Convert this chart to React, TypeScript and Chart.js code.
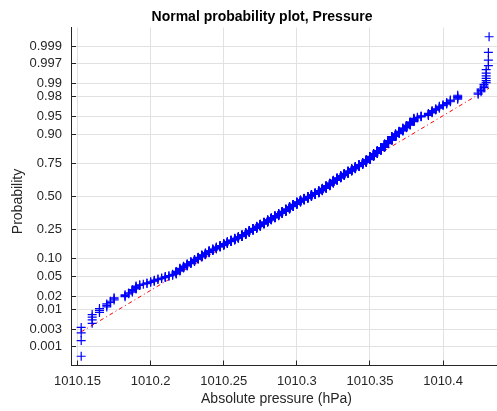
import React, { useEffect, useRef } from "react";
import { Chart, registerables } from "chart.js";

Chart.register(...registerables);

// ---- Data: distinct pressure readings (hPa) and how many samples share each ----
const pressureLevels = [
  1010.1525, 1010.16, 1010.165, 1010.17, 1010.1725, 1010.175, 1010.1825, 1010.185, 1010.1875, 1010.19,
  1010.1925, 1010.195, 1010.1975, 1010.2, 1010.2025, 1010.205, 1010.2075, 1010.21, 1010.2125, 1010.215,
  1010.2175, 1010.22, 1010.2225, 1010.225, 1010.2275, 1010.23, 1010.2325, 1010.235, 1010.2375, 1010.24,
  1010.2425, 1010.245, 1010.2475, 1010.25, 1010.2525, 1010.255, 1010.2575, 1010.26, 1010.2625, 1010.265,
  1010.2675, 1010.27, 1010.2725, 1010.275, 1010.2775, 1010.28, 1010.2825, 1010.285, 1010.2875, 1010.29,
  1010.2925, 1010.295, 1010.2975, 1010.3, 1010.3025, 1010.305, 1010.3075, 1010.31, 1010.3125, 1010.315,
  1010.3175, 1010.32, 1010.3225, 1010.325, 1010.3275, 1010.33, 1010.3325, 1010.335, 1010.3375, 1010.34,
  1010.3425, 1010.345, 1010.3475, 1010.35, 1010.3525, 1010.355, 1010.3575, 1010.36, 1010.3625, 1010.365,
  1010.3675, 1010.37, 1010.3725, 1010.375, 1010.3775, 1010.38, 1010.3825, 1010.385, 1010.39, 1010.3925,
  1010.395, 1010.3975, 1010.4, 1010.4025, 1010.405, 1010.41, 1010.424, 1010.426, 1010.428, 1010.4295,
  1010.431, 1010.4315,
];
const levelCounts = [
  4, 4, 3, 3, 2, 3, 3, 2, 4, 5,
  2, 1, 2, 2, 3, 2, 2, 3, 2, 3,
  7, 8, 6, 7, 7, 8, 8, 9, 8, 9,
  8, 9, 8, 9, 10, 9, 10, 9, 12, 13,
  14, 13, 14, 15, 14, 16, 15, 16, 17, 17,
  18, 19, 19, 19, 16, 15, 15, 15, 14, 17,
  20, 21, 21, 22, 18, 17, 17, 17, 16, 15,
  14, 13, 18, 20, 16, 16, 16, 17, 15, 16,
  10, 9, 10, 8, 9, 9, 2, 3, 5, 5,
  3, 4, 2, 3, 3, 5, 2, 3, 3, 6,
  3, 1,
];

// ---- Axis ticks and texts ----
const probTickLabels = ["0.001", "0.003", "0.01", "0.02", "0.05", "0.10", "0.25", "0.50", "0.75", "0.90", "0.95", "0.98", "0.99", "0.997", "0.999"];
const xTickValues = [1010.15, 1010.2, 1010.25, 1010.3, 1010.35, 1010.4];
const xTickLabels = ["1010.15", "1010.2", "1010.25", "1010.3", "1010.35", "1010.4"];
const titleText = "Normal probability plot, Pressure";
const xLabelText = "Absolute pressure (hPa)";
const yLabelText = "Probability";

// inverse standard normal CDF (Acklam)
function norminv(p: number): number {
  const a = [-3.969683028665376e1, 2.209460984245205e2, -2.759285104469687e2, 1.38357751867269e2, -3.066479806614716e1, 2.506628277459239];
  const b = [-5.447609879822406e1, 1.615858368580409e2, -1.556989798598866e2, 6.680131188771972e1, -1.328068155288572e1];
  const c = [-7.784894002430293e-3, -3.223964580411365e-1, -2.400758277161838, -2.549732539343734, 4.374664141464968, 2.938163982698783];
  const d = [7.784695709041462e-3, 3.224671290700398e-1, 2.445134137142996, 3.754408661907416];
  const plow = 0.02425;
  if (p < plow) {
    const q = Math.sqrt(-2 * Math.log(p));
    return (((((c[0] * q + c[1]) * q + c[2]) * q + c[3]) * q + c[4]) * q + c[5]) / ((((d[0] * q + d[1]) * q + d[2]) * q + d[3]) * q + 1);
  }
  if (p <= 1 - plow) {
    const q = p - 0.5;
    const r = q * q;
    return ((((((a[0] * r + a[1]) * r + a[2]) * r + a[3]) * r + a[4]) * r + a[5]) * q) / (((((b[0] * r + b[1]) * r + b[2]) * r + b[3]) * r + b[4]) * r + 1);
  }
  const q = Math.sqrt(-2 * Math.log(1 - p));
  return -(((((c[0] * q + c[1]) * q + c[2]) * q + c[3]) * q + c[4]) * q + c[5]) / ((((d[0] * q + d[1]) * q + d[2]) * q + d[3]) * q + 1);
}

const FONT = '"Liberation Sans", Arial, Helvetica, sans-serif';
const TEXT_COLOR = "#262626";
const GRID_COLOR = "#e1e1e1";

export default function App() {
  const ref = useRef<HTMLCanvasElement>(null);

  useEffect(() => {
    if (!ref.current) return;
    // expand sorted sample
    const sample: number[] = [];
    pressureLevels.forEach((v, i) => {
      for (let k = 0; k < levelCounts[i]; k++) sample.push(v);
    });
    const n = sample.length;
    const points = sample.map((v, i) => ({ x: v, y: norminv((i + 0.5) / n) }));

    const prctile = (pct: number) => {
      const pos = (pct / 100) * n + 0.5; // 1-based
      const lo = Math.floor(pos);
      const f = pos - lo;
      return sample[lo - 1] + f * (sample[lo] - sample[lo - 1]);
    };
    const q1x = prctile(25);
    const q3x = prctile(75);
    const q1y = norminv(0.25);
    const q3y = norminv(0.75);
    const slope = (q3y - q1y) / (q3x - q1x);
    const cx = (q1x + q3x) / 2;
    const minx = sample[0];
    const maxx = sample[n - 1];
    const range = maxx - minx;
    const yLim = norminv(0.25 / n);

    const decor = {
      id: "decor",
      afterDraw(chart: any) {
        const { ctx, chartArea, scales } = chart;
        const align = (px: number) => Math.round(px - 0.5) + 0.5;
        ctx.save();
        ctx.strokeStyle = TEXT_COLOR;
        ctx.lineWidth = 1;
        scales.y.ticks.forEach((t: any) => {
          const py = align(scales.y.getPixelForValue(t.value));
          ctx.beginPath();
          ctx.moveTo(chartArea.left, py);
          ctx.lineTo(chartArea.left + 5, py);
          ctx.stroke();
        });
        scales.x.ticks.forEach((t: any) => {
          const px = align(scales.x.getPixelForValue(t.value));
          ctx.beginPath();
          ctx.moveTo(px, chartArea.bottom);
          ctx.lineTo(px, chartArea.bottom - 5);
          ctx.stroke();
        });
        ctx.fillStyle = "#000000";
        ctx.font = `bold 14px ${FONT}`;
        ctx.textAlign = "center";
        ctx.textBaseline = "alphabetic";
        ctx.fillText(titleText, 262, 21);
        ctx.fillStyle = TEXT_COLOR;
        ctx.font = `14px ${FONT}`;
        ctx.fillText(xLabelText, 276.5, 402.5);
        ctx.translate(22, 201.5);
        ctx.rotate(-Math.PI / 2);
        ctx.fillText(yLabelText, 0, 0);
        ctx.restore();
      },
    };

    const chart = new Chart(ref.current, {
      type: "scatter",
      data: {
        datasets: [
          {
            type: "scatter",
            data: points,
            pointStyle: "cross",
            pointRadius: 4.5,
            pointBorderWidth: 1.2,
            borderColor: "#0000ff",
            backgroundColor: "#0000ff",
            order: 0,
          } as any,
          {
            type: "line",
            data: [
              { x: q1x, y: q1y },
              { x: q3x, y: q3y },
            ],
            borderColor: "#ff0000",
            borderWidth: 1,
            pointRadius: 0,
            fill: false,
            order: 1,
          } as any,
          {
            type: "line",
            data: [
              { x: minx, y: slope * (minx - cx) },
              { x: maxx, y: slope * (maxx - cx) },
            ],
            borderColor: "#ff0000",
            borderWidth: 1,
            borderDash: [4, 3, 1, 3],
            pointRadius: 0,
            fill: false,
            order: 2,
          } as any,
        ],
      },
      options: {
        animation: false,
        responsive: false,
        devicePixelRatio: 1,
        events: [],
        layout: { padding: { left: 0, top: 27.5, right: 5.5, bottom: 0 } },
        plugins: { legend: { display: false }, tooltip: { enabled: false }, title: { display: false } },
        scales: {
          x: {
            type: "linear",
            bounds: "data",
            min: minx - 0.025 * range,
            max: maxx + 0.025 * range,
            afterBuildTicks: (s: any) => {
              s.ticks = xTickValues.map((v) => ({ value: v }));
            },
            afterFit: (s: any) => {
              s.height = 45.5;
            },
            grid: { color: GRID_COLOR, lineWidth: 1, drawTicks: false },
            border: { display: true, color: TEXT_COLOR, width: 1 },
            ticks: {
              autoSkip: false,
              maxRotation: 0,
              padding: 8,
              color: TEXT_COLOR,
              font: { family: FONT, size: 13 },
              callback: (_v: any, i: number) => xTickLabels[i],
            },
          },
          y: {
            type: "linear",
            bounds: "data",
            min: yLim,
            max: -yLim,
            afterBuildTicks: (s: any) => {
              s.ticks = probTickLabels.map((l) => ({ value: norminv(parseFloat(l)) }));
            },
            afterFit: (s: any) => {
              s.width = 71;
            },
            grid: { color: GRID_COLOR, lineWidth: 1, drawTicks: false },
            border: { display: true, color: TEXT_COLOR, width: 1 },
            ticks: {
              autoSkip: false,
              padding: 9,
              color: TEXT_COLOR,
              font: { family: FONT, size: 13 },
              callback: (_v: any, i: number) => probTickLabels[i],
            },
          },
        },
      } as any,
      plugins: [decor],
    });
    return () => chart.destroy();
  }, []);

  return (
    <div style={{ position: "fixed", left: 0, top: 0, width: 497, height: 411, overflow: "hidden", background: "#ffffff" }}>
      <canvas ref={ref} width={505} height={411} style={{ display: "block" }} />
    </div>
  );
}
